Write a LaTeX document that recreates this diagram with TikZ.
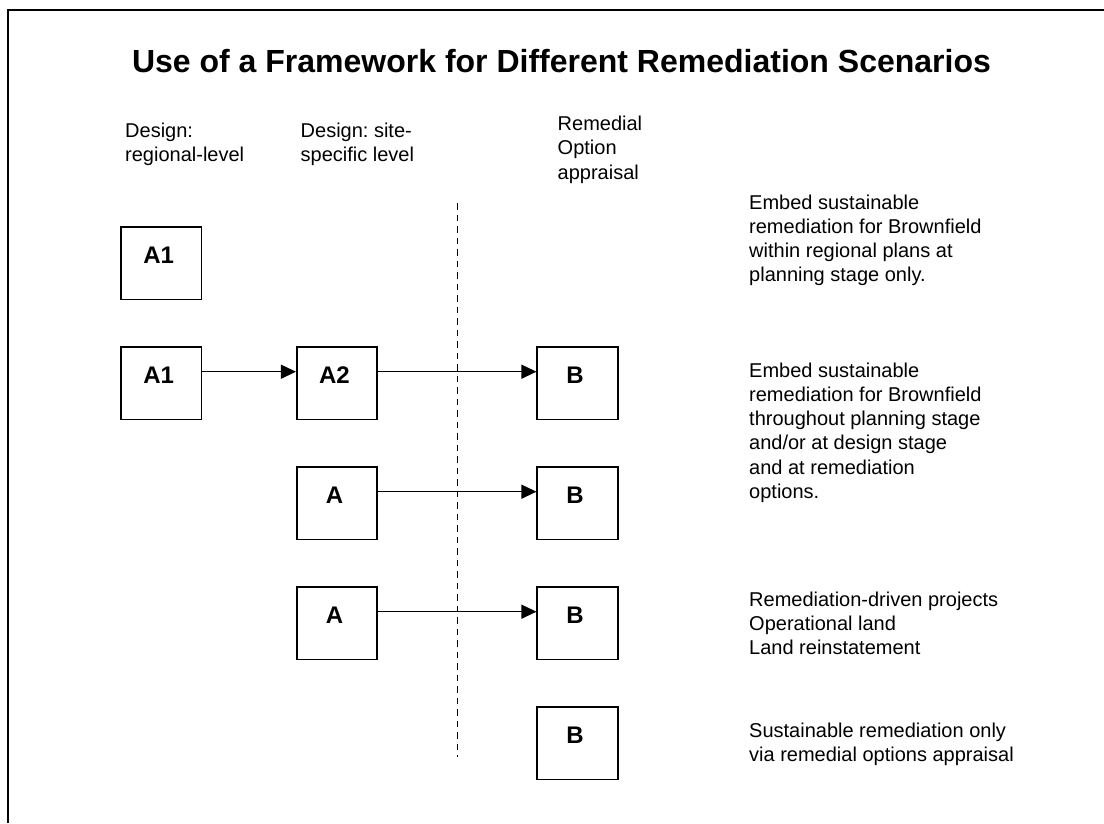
\documentclass[tikz,border=0pt]{standalone}
\usepackage{fontspec}
\setmainfont{Liberation Sans}
\usetikzlibrary{arrows.meta}
\frenchspacing
\newcommand\mylines[1]{\vtop{\halign{##\hfil\cr#1\crcr}}}
\tikzset{
  titletext/.style={anchor=base, inner sep=0pt, font=\fontsize{32}{38}\selectfont\bfseries},
  lbl/.style={anchor=base west, inner sep=0pt, font=\fontsize{20}{24.3}\selectfont},
  desc/.style={anchor=base west, inner sep=0pt, font=\fontsize{20}{24.3}\selectfont},
  stagebox/.style={draw, line width=1.6pt, minimum width=80.5pt, minimum height=72.5pt,
    inner sep=0pt, text height=18pt, text depth=18pt,
    font=\fontsize{24}{28}\selectfont\bfseries, execute at end node={\kern5pt}},
  arr/.style={line width=1.3pt, -{Triangle[length=15pt,width=14pt]}},
  divider/.style={line width=1.5pt, dash pattern=on 6.5pt off 5pt},
  frame/.style={line width=2pt}
}
\begin{document}
\begin{tikzpicture}[x=1pt,y=-1pt]
\useasboundingbox (0,0) rectangle (1104,823);
% frame (right and bottom sides lie outside the picture)
\coordinate (fbl) at (8,823);
\coordinate (ftl) at (8,10);
\coordinate (ftr) at (1104,10);
\draw[frame] (fbl) -- (ftl) -- (ftr);

\node[titletext] (title) at (561.5,72.7) {Use of a Framework for Different Remediation Scenarios};

\node[lbl] (col1) at (125,137.3) {\mylines{Design:\cr regional-level}};
\node[lbl] (col2) at (300.5,137.3) {\mylines{Design: site-\cr specific level}};
\node[lbl] (col3) at (557.5,130.5) {\mylines{Remedial\cr Option\cr appraisal}};

% dashed divider
\coordinate (dtop) at (457.5,203);
\coordinate (dbot) at (457.5,757);
\draw[divider] (dtop) -- (dbot);

% row 1
\node[stagebox] (r1a) at (161.2,263.3) {A1};
% row 2
\node[stagebox] (r2a) at (161.2,383.3) {A1};
\node[stagebox] (r2b) at (337,383.3) {A2};
\node[stagebox] (r2c) at (577.5,383.3) {B};
% row 3
\node[stagebox] (r3b) at (337,503.3) {A};
\node[stagebox] (r3c) at (577.5,503.3) {B};
% row 4
\node[stagebox] (r4b) at (337,623.3) {A};
\node[stagebox] (r4c) at (577.5,623.3) {B};
% row 5
\node[stagebox] (r5c) at (577.5,743.3) {B};

\draw[arr] ([yshift=11.6pt]r2a.east) -- ([yshift=11.6pt]r2b.west);
\draw[arr] ([yshift=11.6pt]r2b.east) -- ([yshift=11.6pt]r2c.west);
\draw[arr] ([yshift=11.6pt]r3b.east) -- ([yshift=11.6pt]r3c.west);
\draw[arr] ([yshift=11.6pt]r4b.east) -- ([yshift=11.6pt]r4c.west);

\node[desc] (d1) at (749,209) {\mylines{Embed sustainable\cr remediation for Brownfield\cr within regional plans at\cr planning stage only.}};
\node[desc] (d2) at (749,377) {\mylines{Embed sustainable\cr remediation for Brownfield\cr throughout planning stage\cr and/or at design stage\cr and at remediation\cr options.}};
\node[desc] (d4) at (749,606) {\mylines{Remediation-driven projects\cr Operational land\cr Land reinstatement}};
\node[desc] (d5) at (749,737) {\mylines{Sustainable remediation only\cr via remedial options appraisal}};
\end{tikzpicture}
\end{document}
